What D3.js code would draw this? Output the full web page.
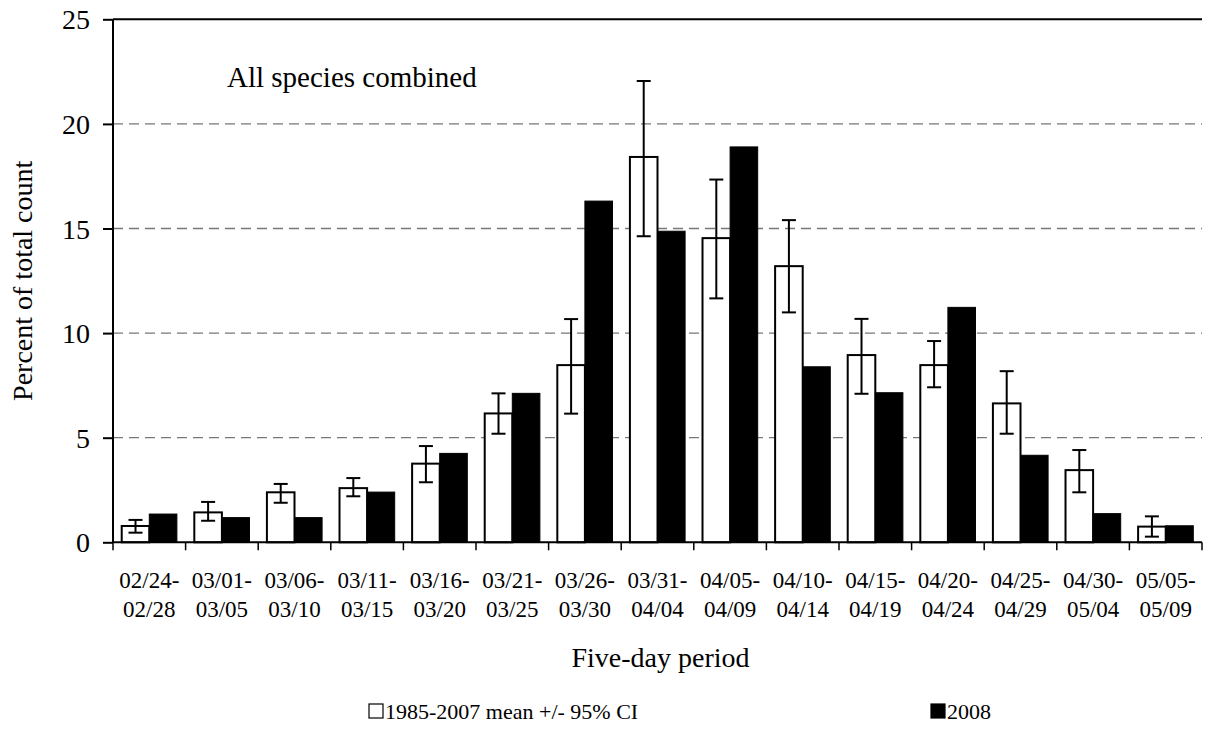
<!DOCTYPE html>
<html><head><meta charset="utf-8">
<script src="https://cdn.jsdelivr.net/npm/d3@7"></script>
<style>html,body{margin:0;padding:0;background:#fff;}svg{display:block;}text{font-family:"Liberation Serif","Times New Roman",serif;fill:#000;}</style>
</head><body>
<svg id="chart" width="1214" height="749"></svg>
<script>
const periodStart = ["02/24-","03/01-","03/06-","03/11-","03/16-","03/21-","03/26-","03/31-","04/05-","04/10-","04/15-","04/20-","04/25-","04/30-","05/05-"];
const periodEnd = ["02/28","03/05","03/10","03/15","03/20","03/25","03/30","04/04","04/09","04/14","04/19","04/24","04/29","05/04","05/09"];
const meanValues = [0.78, 1.43, 2.39, 2.59, 3.76, 6.16, 8.47, 18.42, 14.54, 13.2, 8.95, 8.47, 6.64, 3.45, 0.75];
const ciLow = [0.46, 1.03, 1.89, 2.2, 2.87, 5.19, 6.15, 14.63, 11.66, 10.99, 7.10, 7.41, 5.19, 2.39, 0.27];
const ciHigh = [1.07, 1.93, 2.79, 3.07, 4.6, 7.12, 10.67, 22.05, 17.34, 15.4, 10.68, 9.62, 8.18, 4.41, 1.24];
const values2008 = [1.35, 1.18, 1.18, 2.40, 4.25, 7.12, 16.31, 14.87, 18.90, 8.39, 7.15, 11.23, 4.16, 1.37, 0.79];
const yTicks = [0, 5, 10, 15, 20, 25];
const seriesNames = ["1985-2007 mean +/- 95% CI", "2008"];

const svg = d3.select("#chart");
const L = 113, R = 1202, T = 19.3, B = 542.3;
const idx = d3.range(periodStart.length);
const x = d3.scaleBand().domain(idx).range([L, R]).paddingInner(0.24).paddingOuter(0.12);
const y = d3.scaleLinear().domain([0, 25]).range([B, T]);
const step = x.step(), bw = x.bandwidth();

// gridlines
svg.append("g").selectAll("line").data(yTicks.filter(d => d > 0 && d < 25)).join("line")
  .attr("x1", L).attr("x2", R).attr("y1", d => y(d)).attr("y2", d => y(d))
  .attr("stroke", "#777").attr("stroke-width", 1.3).attr("stroke-dasharray", "10,6");
// top border
svg.append("line").attr("x1", L).attr("x2", R).attr("y1", y(25)).attr("y2", y(25)).attr("stroke", "#000").attr("stroke-width", 2);

// y axis
const yAxis = svg.append("g").attr("transform", `translate(${L},0)`)
  .call(d3.axisLeft(y).tickValues(yTicks).tickSize(10).tickPadding(13).tickFormat(d3.format("d")));
yAxis.select(".domain").attr("stroke-width", 2).attr("d", `M0,${T}V${B}`);
yAxis.selectAll(".tick line").attr("stroke-width", 2);
yAxis.selectAll("text").style("font-size", "28px").attr("font-family", null).attr("dy", "0.34em");

// bars
const g = svg.append("g");
g.selectAll("rect.mean").data(idx).join("rect").attr("class", "mean")
  .attr("x", i => x(i)).attr("width", bw / 2)
  .attr("y", i => y(meanValues[i])).attr("height", i => y(0) - y(meanValues[i]))
  .attr("fill", "#fff").attr("stroke", "#000").attr("stroke-width", 2);
g.selectAll("rect.y2008").data(idx).join("rect").attr("class", "y2008")
  .attr("x", i => x(i) + bw / 2).attr("width", bw / 2)
  .attr("y", i => y(values2008[i])).attr("height", i => y(0) - y(values2008[i]))
  .attr("fill", "#000").attr("stroke", "#000").attr("stroke-width", 1);

// error bars
const cap = 7;
const eb = g.selectAll("g.err").data(idx).join("g").attr("class", "err")
  .attr("transform", i => `translate(${x(i) + bw / 4},0)`);
eb.append("line").attr("x1", 0).attr("x2", 0).attr("y1", i => y(ciLow[i])).attr("y2", i => y(ciHigh[i])).attr("stroke", "#000").attr("stroke-width", 2);
eb.append("line").attr("x1", -cap).attr("x2", cap).attr("y1", i => y(ciLow[i])).attr("y2", i => y(ciLow[i])).attr("stroke", "#000").attr("stroke-width", 2);
eb.append("line").attr("x1", -cap).attr("x2", cap).attr("y1", i => y(ciHigh[i])).attr("y2", i => y(ciHigh[i])).attr("stroke", "#000").attr("stroke-width", 2);

// x axis
const bounds = d3.range(periodStart.length + 1).map(i => L + i * step);
svg.append("line").attr("x1", L).attr("x2", R).attr("y1", B).attr("y2", B).attr("stroke", "#000").attr("stroke-width", 2);
svg.append("g").selectAll("line").data(bounds).join("line")
  .attr("x1", d => d).attr("x2", d => d).attr("y1", B).attr("y2", B + 8).attr("stroke", "#000").attr("stroke-width", 1.5);
const xl = svg.append("g").selectAll("text").data(idx).join("text")
  .attr("text-anchor", "middle").style("font-size", "23px");
xl.append("tspan").attr("x", i => L + (i + 0.5) * step).attr("y", 588).text(i => periodStart[i]);
xl.append("tspan").attr("x", i => L + (i + 0.5) * step).attr("y", 617).text(i => periodEnd[i]);

// titles
svg.append("text").attr("x", (L + R) / 2 + 3).attr("y", 667).attr("text-anchor", "middle").style("font-size", "28px").text("Five-day period");
svg.append("text").attr("transform", `translate(32,${(T + B) / 2}) rotate(-90)`).attr("text-anchor", "middle").style("font-size", "28px").text("Percent of total count");
svg.append("text").attr("x", 227).attr("y", 87).style("font-size", "29px").text("All species combined");

// legend
const legend = [{name: seriesNames[0], fill: "#fff", x: 369}, {name: seriesNames[1], fill: "#000", x: 931}];
const lg = svg.append("g").selectAll("g").data(legend).join("g").attr("transform", d => `translate(${d.x},704)`);
lg.append("rect").attr("x", 0).attr("y", 0).attr("width", 14).attr("height", 14).attr("fill", d => d.fill).attr("stroke", "#000").attr("stroke-width", 1.2);
lg.append("text").attr("x", 16).attr("y", 15).style("font-size", "22px").text(d => d.name);
</script>
</body></html>
